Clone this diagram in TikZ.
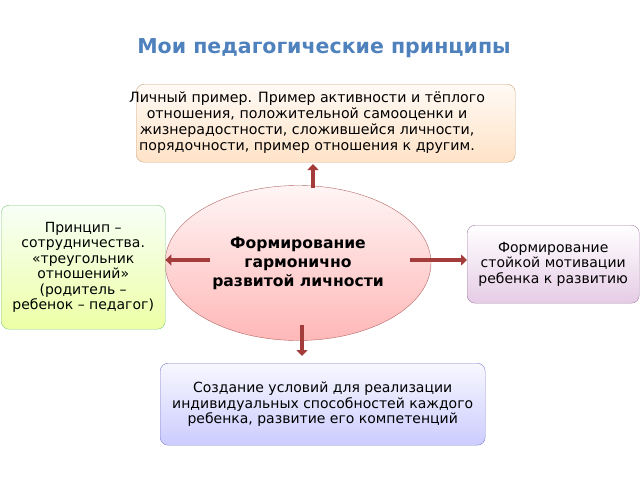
\documentclass[tikz,border=0pt]{standalone}
\usepackage{fontspec}
\setmainfont{DejaVu Sans}
\usetikzlibrary{arrows.meta, shapes.geometric}

\definecolor{titleblue}{RGB}{79,129,189}
\definecolor{arrowred}{RGB}{165,60,60}

\tikzset{
    box/.style={draw=#1!60!black!50, rounded corners=8pt, align=center, font=\fontsize{14}{15.5}\selectfont, inner sep=1pt},
    blockarrow/.style={draw=arrowred, line width=4.5pt, -{Triangle[width=11pt,length=6pt]}},
}

\begin{document}
\begin{tikzpicture}[x=1pt, y=-1pt]
    \useasboundingbox (0,0) rectangle (640,480);
    \node[font=\bfseries\fontsize{20.5}{24}\selectfont, text=titleblue](title) at (324,48) {Мои педагогические принципы};

    \node[box=orange, minimum width=379pt, minimum height=78pt, top color=orange!4, bottom color=orange!22, anchor=north west](example) at (136,84) {};
    \node[font=\fontsize{14.2}{16}\selectfont, align=center, anchor=north](extext) at (307,88)
        {Личный пример. Пример активности и тёплого\\
        отношения, положительной самооценки и\\
        жизнерадостности, сложившейся личности,\\
        порядочности, пример отношения к другим.};

    \node[ellipse, draw=red!50!black!60, minimum width=266pt, minimum height=155pt, inner sep=0pt, top color=red!4, bottom color=red!28, align=center, font=\bfseries\fontsize{15.6}{19}\selectfont](core) at (298,263)
        {Формирование\\гармонично\\развитой личности};

    \node[box=green, minimum width=164pt, minimum height=124pt, top color=green!3, bottom color=green!20!yellow!35, anchor=north west](coop) at (1,205)
        {Принцип –\\сотрудничества.\\«треугольник\\отношений»\\(родитель –\\ребенок – педагог)};

    \node[box=violet, minimum width=172pt, minimum height=78pt, top color=white, bottom color=violet!20, anchor=north west](motiv) at (467,225)
        {Формирование\\стойкой мотивации\\ребенка к развитию};

    \node[box=blue, minimum width=325pt, minimum height=82pt, top color=blue!3, bottom color=blue!20, anchor=north west](cond) at (160,363)
        {Создание условий для реализации\\индивидуальных способностей каждого\\ребенка, развитие его компетенций};

    \draw[blockarrow] (313,188) -- (313,164);
    \draw[blockarrow] (210,260) -- (coop.east |- 0,260);
    \draw[blockarrow] (410,260) -- (motiv.west |- 0,260);
    \draw[blockarrow] (302,325) -- (302,356);
\end{tikzpicture}
\end{document}
